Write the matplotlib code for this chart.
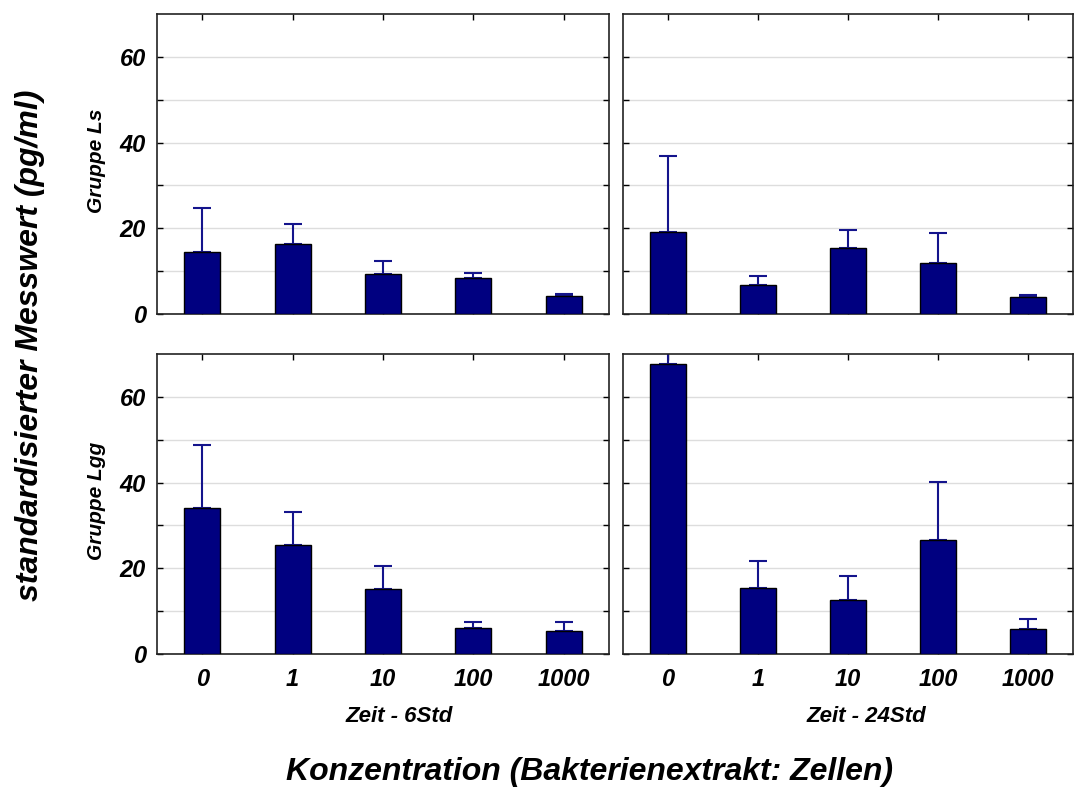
import numpy as np
from matplotlib import pyplot as plt

categories = ["0", "1", "10", "100", "1000"]
times = ["Zeit - 6Std", "Zeit - 24Std"]
groups = ["Gruppe Ls", "Gruppe Lgg"]

# mean values and upper error bar ends
ls_6_mean = [14.4, 16.3, 9.3, 8.3, 4.2]
ls_6_top = [24.8, 20.9, 12.4, 9.6, 4.7]
ls_24_mean = [19.1, 6.7, 15.3, 11.8, 4.0]
ls_24_top = [36.9, 8.9, 19.6, 18.8, 4.5]
lgg_6_mean = [34.0, 25.4, 15.2, 6.0, 5.3]
lgg_6_top = [48.7, 33.2, 20.5, 7.5, 7.4]
lgg_24_mean = [67.6, 15.3, 12.5, 26.5, 5.8]
lgg_24_top = [76.0, 21.8, 18.1, 40.1, 8.2]

panels = [[(ls_6_mean, ls_6_top), (ls_24_mean, ls_24_top)],
          [(lgg_6_mean, lgg_6_top), (lgg_24_mean, lgg_24_top)]]

plt.rcParams['font.family'] = ['Liberation Sans', 'DejaVu Sans']
W, H = 1074, 790
fig = plt.figure(figsize=(W / 100, H / 100), dpi=100)

def box(x0, y0, x1, y1):
    # pixel box -> figure fraction
    return [x0 / W, 1 - y1 / H, (x1 - x0) / W, (y1 - y0) / H]

cols = [(157, 609), (623, 1073)]
rows = [(14, 314), (354, 654)]
bar_color = '#000080'
err_color = '#14148c'
x = np.arange(len(categories))
bi = dict(fontweight='bold', fontstyle='italic')

for r, (y0, y1) in enumerate(rows):
    for c, (x0, x1) in enumerate(cols):
        ax = fig.add_axes(box(x0, y0, x1, y1))
        mean, top = panels[r][c]
        mean = np.array(mean)
        err = np.array(top) - mean
        ax.bar(x, mean, width=0.4, color=bar_color, edgecolor='black', linewidth=1.0, zorder=3)
        ax.errorbar(x, mean, yerr=[np.zeros_like(err), err], fmt='none', ecolor=err_color,
                    elinewidth=1.5, capsize=6.5, capthick=1.5, zorder=2)
        ax.set_xlim(-0.5, 4.5)
        ax.set_ylim(0, 70)
        ax.set_yticks([0, 20, 40, 60])
        ax.set_yticks([10, 30, 50], minor=True)
        ax.grid(True, axis='y', which='both', color='#dddddd', linewidth=1.0, zorder=0)
        ax.set_xticks(x)
        ax.tick_params(which='both', direction='in', top=True, right=True, length=4, width=1)
        for s in ax.spines.values():
            s.set_linewidth(1.2)
            s.set_color('#222222')
        if r == 1:
            ax.set_xticklabels(categories, fontsize=17, **bi)
            ax.tick_params(axis='x', pad=10)
        else:
            ax.set_xticklabels([])
        if c == 0:
            ax.set_yticklabels(['0', '20', '40', '60'], fontsize=17, **bi)
            ax.tick_params(axis='y', pad=8)
        else:
            ax.set_yticklabels([])

for r, (y0, y1) in enumerate(rows):
    fig.text(97 / W, 1 - (y0 + y1 - 6) / 2 / H, groups[r], rotation=90, ha='center', va='center',
             fontsize=15, **bi)

fig.text(399 / W, 1 - 717 / H, times[0], ha='center', va='center', fontsize=16, **bi)
fig.text(866 / W, 1 - 717 / H, times[1], ha='center', va='center', fontsize=16, **bi)
fig.text(589 / W, 1 - 772 / H, "Konzentration (Bakterienextrakt: Zellen)", ha='center', va='center',
         fontsize=23, **bi)
fig.text(30 / W, 1 - 345 / H, "standardisierter Messwert (pg/ml)", rotation=90, ha='center', va='center',
         fontsize=23, **bi)

fig.savefig("out.png", dpi=100)
